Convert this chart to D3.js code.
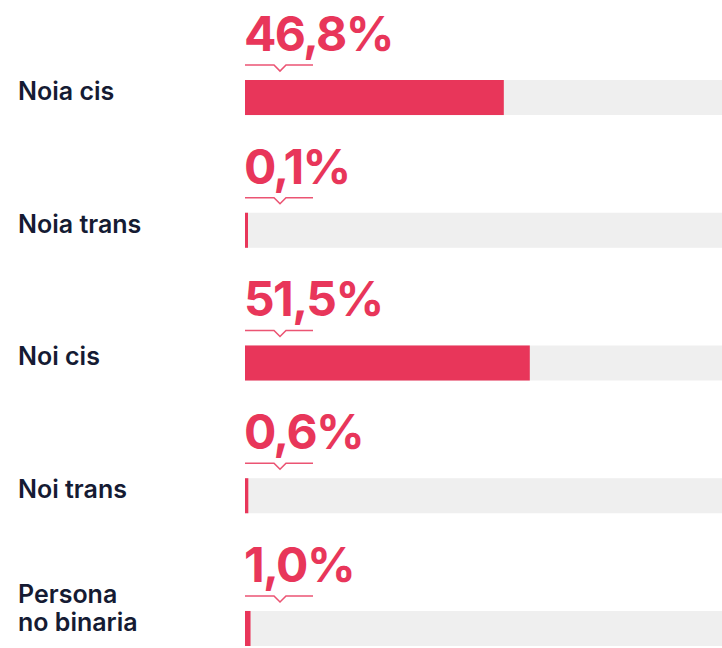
<!DOCTYPE html>
<html>
<head>
<meta charset="utf-8">
<script src="https://cdn.jsdelivr.net/npm/d3@7"></script>
<style>
  html, body { margin: 0; padding: 0; background: #ffffff; }
  svg { display: block; }
</style>
</head>
<body>
<svg id="chart" width="722" height="648"></svg>
<script>
const categories = ["Noia cis", "Noia trans", "Noi cis", "Noi trans", "Persona no binaria"];
const labelLines = [["Noia cis"], ["Noia trans"], ["Noi cis"], ["Noi trans"], ["Persona", "no binaria"]];
const values = [46.8, 0.1, 51.5, 0.6, 1.0];
const valueLabels = ["46,8%", "0,1%", "51,5%", "0,6%", "1,0%"];

const W = 722, H = 648;
const barX0 = 245;
const red = "#e8365a";
const track = "#efefef";
const ink = "#151b33";
const font = "Inter, 'Open Sans', sans-serif";

const svg = d3.select("#chart");

const x = d3.scaleLinear().domain([0, 100]).range([barX0, barX0 + 553]);
const y = d3.scaleBand().domain(categories).range([80, 646]).paddingInner(0.736).paddingOuter(0);
const bh = y.bandwidth();

const rows = svg.selectAll("g.row")
  .data(categories.map((c, i) => ({ c, i, v: values[i], t: valueLabels[i], lines: labelLines[i] })))
  .enter().append("g").attr("class", "row")
  .attr("transform", d => `translate(0,${y(d.c)})`);

// track
rows.append("rect")
  .attr("x", barX0).attr("y", 0)
  .attr("width", W - barX0).attr("height", bh)
  .attr("fill", track);

// value bar
rows.append("rect")
  .attr("x", barX0).attr("y", 0)
  .attr("width", d => Math.max(x(d.v) - barX0, 3))
  .attr("height", bh)
  .attr("fill", red);

// bracket with notch
rows.append("path")
  .attr("d", () => {
    const yy = -15;
    return `M${barX0},${yy} L${barX0 + 29},${yy} L${barX0 + 35},${yy + 6} L${barX0 + 41},${yy} L${barX0 + 68},${yy}`;
  })
  .attr("fill", "none")
  .attr("stroke", red)
  .attr("stroke-width", 1.6)
  .attr("stroke-opacity", 0.85);

// value text
rows.append("text")
  .attr("x", barX0 - 1).attr("y", -29)
  .attr("fill", red)
  .attr("font-family", font)
  .attr("font-weight", 700)
  .attr("font-size", 48)
  .attr("letter-spacing", -1.6)
  .text(d => d.t);

// category labels
rows.each(function(d) {
  const g = d3.select(this);
  const n = d.lines.length;
  d.lines.forEach((line, k) => {
    g.append("text")
      .attr("x", 18)
      .attr("y", 20 - (n - 1 - k) * 28)
      .attr("fill", ink)
      .attr("font-family", font)
      .attr("font-weight", 600)
      .attr("font-size", 25)
      .text(line);
  });
});
</script>
</body>
</html>
